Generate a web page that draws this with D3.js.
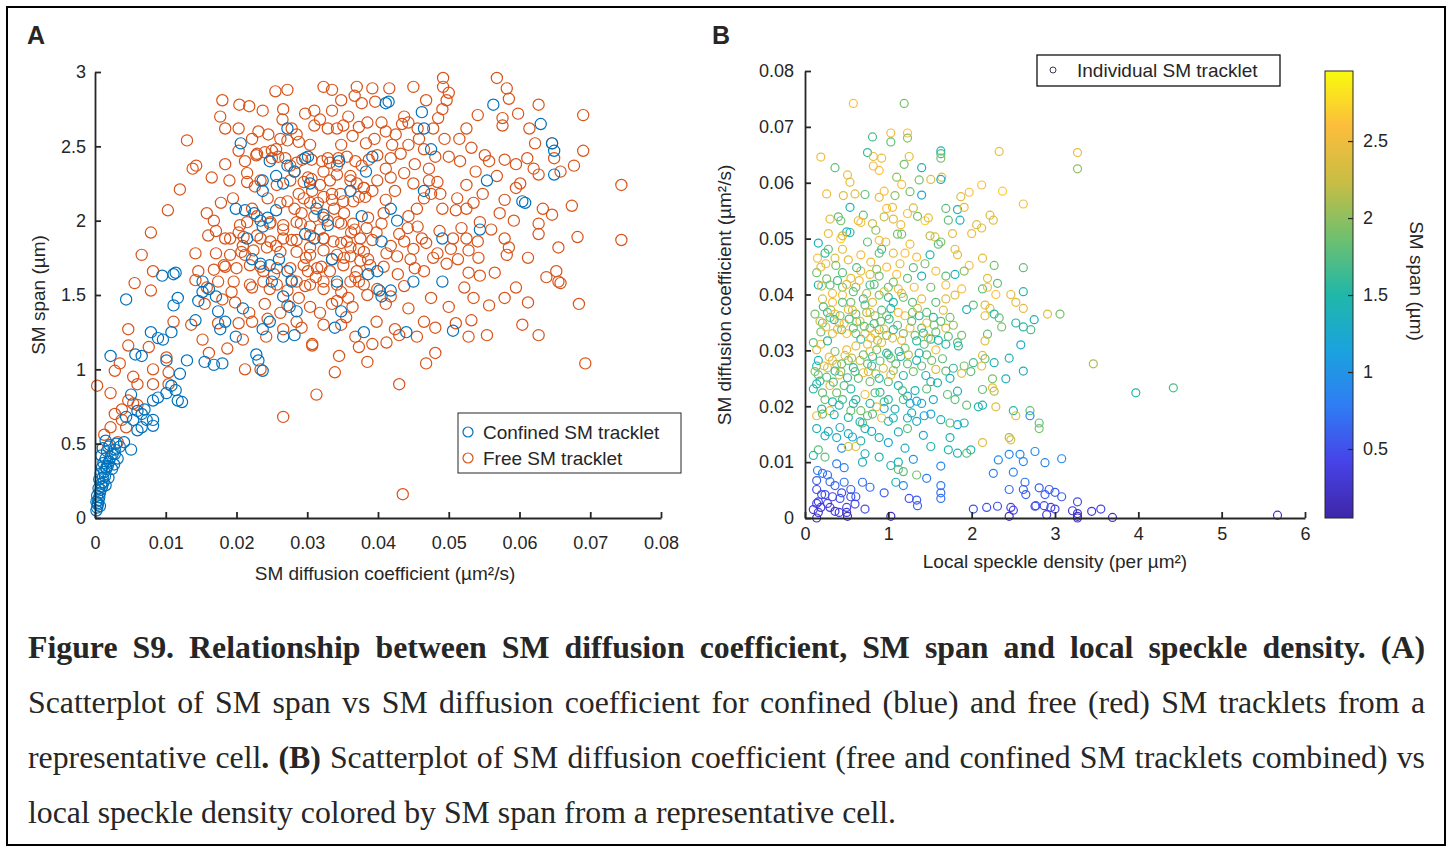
<!DOCTYPE html>
<html>
<head>
<meta charset="utf-8">
<script src="https://cdn.jsdelivr.net/npm/d3@7"></script>
<style>
  body { margin: 0; background: #fff; }
  svg { display: block; }
  text { font-family: "Liberation Sans", Arial, sans-serif; fill: #262626; }
</style>
</head>
<body>
<svg id="fig" width="1452" height="852"></svg>
<script>
// ---------- data : panel A (diffusion coefficient, span) ----------
var confinedPts = [
  [0.0002,0.05],[0.0003,0.07],[0.0007,0.08],[0.0004,0.09],[0.0004,0.10],[0.0002,0.11],[0.0005,0.12],[0.0006,0.14],
  [0.0003,0.15],[0.0007,0.17],[0.0008,0.19],[0.0005,0.20],[0.0010,0.21],[0.0015,0.22],[0.0009,0.23],[0.0012,0.24],
  [0.0006,0.26],[0.0011,0.27],[0.0019,0.27],[0.0014,0.28],[0.0008,0.30],[0.0013,0.31],[0.0016,0.33],[0.0024,0.33],
  [0.0010,0.34],[0.0016,0.34],[0.0018,0.35],[0.0027,0.36],[0.0012,0.37],[0.0020,0.38],[0.0015,0.40],[0.0032,0.40],
  [0.0022,0.41],[0.0009,0.42],[0.0025,0.43],[0.0028,0.43],[0.0017,0.45],[0.0028,0.46],[0.0051,0.46],[0.0011,0.47],
  [0.0035,0.48],[0.0021,0.49],[0.0030,0.50],[0.0041,0.51],[0.0015,0.52],
  [0.0060,0.59],[0.0051,0.83],[0.0066,0.70],[0.0073,0.66],[0.0082,0.62],[0.0082,0.66],[0.0066,0.61],[0.0054,0.66],
  [0.0044,0.68],[0.0060,0.72],[0.0070,0.73],[0.0082,0.79],[0.0089,0.81],[0.0101,0.84],[0.0117,0.79],[0.0123,0.78],
  [0.0108,0.89],[0.0114,0.86],[0.0120,0.97],[0.0101,1.06],[0.0089,1.21],[0.0096,1.20],[0.0079,1.25],[0.0022,1.09],
  [0.0057,1.10],[0.0066,1.09],[0.0108,1.25],[0.0044,1.47],[0.0095,1.63],[0.0111,1.64],[0.0114,1.65],[0.0117,1.48],
  [0.0111,1.43],[0.0130,1.06],[0.0142,1.33],[0.0146,1.46],[0.0152,1.59],[0.0152,1.52],[0.0161,1.54],[0.0171,1.49],
  [0.0174,1.39],[0.0184,1.32],[0.0177,1.27],[0.0155,1.05],[0.0168,1.03],[0.0180,1.04],[0.0199,1.22],[0.0209,1.41],
  [0.0228,1.10],[0.0231,1.06],[0.0237,0.99],[0.0237,1.27],[0.0247,1.32],
  [0.0199,2.08],[0.0212,2.07],[0.0225,2.05],[0.0234,2.00],[0.0244,2.02],[0.0256,2.07],[0.0237,1.96],[0.0215,1.88],
  [0.0222,1.74],[0.0234,1.71],[0.0247,1.70],[0.0260,1.74],[0.0272,1.66],[0.0278,1.59],[0.0266,1.49],[0.0275,1.42],
  [0.0285,1.39],[0.0266,1.22],[0.0282,1.23],[0.0250,1.59],[0.0237,2.27],[0.0237,2.20],[0.0247,2.40],[0.0272,2.62],
  [0.0206,2.52],[0.0256,2.30],[0.0266,2.25],[0.0272,2.37],[0.0282,2.33],[0.0297,2.42],[0.0301,2.43],[0.0304,2.25],
  [0.0297,1.91],[0.0310,1.88],[0.0313,2.08],[0.0323,2.04],[0.0329,1.97],[0.0335,1.74],[0.0342,1.59],[0.0348,1.39],
  [0.0339,1.28],[0.0345,2.40],[0.0361,2.20],[0.0377,2.03],[0.0383,2.33],[0.0392,2.43],[0.0386,1.64],[0.0380,1.25],
  [0.0399,1.66],[0.0405,1.86],[0.0402,1.53],[0.0405,1.49],[0.0418,1.53],[0.0415,2.80],[0.0411,2.79],[0.0418,2.08],
  [0.0427,2.00],[0.0440,1.25],[0.0450,1.59],[0.0462,2.73],[0.0465,2.62],[0.0475,2.48],[0.0465,2.20],[0.0491,1.59],
  [0.0491,1.88],[0.0506,1.26],[0.0544,1.94],[0.0554,2.27],[0.0563,2.78],[0.0604,2.13],[0.0608,2.12],[0.0630,2.65],
  [0.0646,2.52],[0.0649,2.47],[0.0649,2.31]
];

var freePts = [
  [0.0492,2.96],[0.0568,2.96],[0.0255,2.87],[0.0272,2.88],[0.0323,2.90],[0.0335,2.88],[0.0370,2.90],[0.0392,2.89],
  [0.0416,2.89],[0.0450,2.90],[0.0492,2.90],[0.0500,2.86],[0.0582,2.89],[0.0585,2.82],[0.0180,2.81],[0.0204,2.78],
  [0.0218,2.77],[0.0237,2.74],[0.0266,2.75],[0.0297,2.72],[0.0310,2.74],[0.0335,2.74],[0.0348,2.81],[0.0367,2.84],
  [0.0377,2.79],[0.0396,2.80],[0.0437,2.70],[0.0443,2.66],[0.0468,2.81],[0.0491,2.75],[0.0497,2.81],[0.0541,2.71],
  [0.0576,2.69],[0.0598,2.72],[0.0627,2.78],[0.0690,2.71],[0.0576,2.64],[0.0614,2.62],[0.0177,2.70],[0.0184,2.62],
  [0.0203,2.62],[0.0231,2.60],[0.0278,2.62],[0.0310,2.64],[0.0329,2.62],[0.0351,2.64],[0.0373,2.63],[0.0411,2.60],
  [0.0434,2.65],[0.0456,2.62],[0.0494,2.55],[0.0130,2.54],
  [0.0138,2.35],[0.0143,2.37],[0.0203,2.47],[0.0228,2.44],[0.0250,2.42],[0.0256,2.48],[0.0272,2.54],[0.0288,2.53],
  [0.0304,2.51],[0.0329,2.42],[0.0348,2.51],[0.0364,2.57],[0.0383,2.52],[0.0399,2.44],[0.0420,2.51],[0.0443,2.51],
  [0.0465,2.48],[0.0481,2.43],[0.0500,2.43],[0.0516,2.40],[0.0532,2.49],[0.0551,2.44],[0.0557,2.40],[0.0579,2.41],
  [0.0595,2.38],[0.0611,2.42],[0.0620,2.35],[0.0646,2.52],[0.0649,2.42],[0.0658,2.33],[0.0677,2.37],[0.0690,2.47],
  [0.0744,2.24],[0.0165,2.29],[0.0184,2.38],[0.0190,2.27],[0.0215,2.32],[0.0234,2.27],[0.0282,2.33],[0.0301,2.29],
  [0.0323,2.33],[0.0342,2.37],[0.0361,2.27],[0.0380,2.22],[0.0399,2.27],[0.0411,2.35],[0.0418,2.29],[0.0437,2.32],
  [0.0450,2.25],[0.0472,2.27],[0.0484,2.26],[0.0525,2.24],[0.0595,2.22],[0.0627,2.31],[0.0120,2.21],
  [0.0103,2.07],[0.0158,2.05],[0.0168,2.00],[0.0171,1.93],[0.0079,1.92],[0.0203,1.92],[0.0184,1.88],[0.0222,2.08],
  [0.0244,2.15],[0.0272,2.13],[0.0288,2.18],[0.0307,2.20],[0.0335,2.18],[0.0351,2.13],[0.0373,2.16],[0.0392,2.20],
  [0.0411,2.14],[0.0424,2.20],[0.0443,2.03],[0.0465,2.15],[0.0475,2.18],[0.0491,2.08],[0.0510,2.07],[0.0525,2.08],
  [0.0544,1.99],[0.0560,1.94],[0.0579,2.14],[0.0601,2.25],[0.0633,2.08],[0.0627,1.98],[0.0627,1.91],[0.0646,2.04],
  [0.0674,2.10],[0.0744,1.87],[0.0682,1.89],[0.0579,1.88],[0.0582,1.77],[0.0585,1.82],[0.0247,1.98],[0.0266,1.94],
  [0.0291,1.98],[0.0310,2.03],[0.0329,2.00],[0.0348,1.98],[0.0367,1.94],[0.0386,2.02],[0.0405,1.98],[0.0430,1.91],
  [0.0456,1.96],[0.0487,1.93],[0.0506,1.88],[0.0525,1.88],[0.0541,1.86],[0.0209,1.83],[0.0234,1.88],[0.0256,1.83],
  [0.0278,1.87],[0.0304,1.82],[0.0323,1.88],[0.0348,1.85],[0.0373,1.81],[0.0392,1.87],[0.0418,1.83],[0.0437,1.86],
  [0.0450,1.81],[0.0468,1.85],[0.0503,1.81],[0.0528,1.80],
  [0.0066,1.77],[0.0082,1.66],[0.0056,1.58],[0.0079,1.53],[0.0142,1.78],[0.0146,1.66],[0.0142,1.60],[0.0171,1.78],
  [0.0184,1.69],[0.0174,1.59],[0.0193,1.52],[0.0212,1.77],[0.0234,1.69],[0.0253,1.64],[0.0278,1.60],[0.0301,1.66],
  [0.0320,1.69],[0.0335,1.74],[0.0361,1.76],[0.0386,1.74],[0.0408,1.69],[0.0427,1.76],[0.0446,1.74],[0.0465,1.66],
  [0.0484,1.78],[0.0497,1.71],[0.0513,1.74],[0.0528,1.65],[0.0544,1.63],[0.0652,1.66],[0.0655,1.59],[0.0658,1.58],
  [0.0222,1.55],[0.0247,1.54],[0.0272,1.53],[0.0297,1.56],[0.0323,1.54],[0.0348,1.52],[0.0373,1.59],[0.0399,1.54],
  [0.0418,1.49],[0.0437,1.56],[0.0475,1.48],[0.0500,1.42],[0.0557,1.43],[0.0579,1.48],[0.0684,1.44],[0.0155,1.44],
  [0.0180,1.47],[0.0240,1.44],[0.0272,1.43],[0.0304,1.42],[0.0335,1.44],[0.0364,1.42],[0.0411,1.44],[0.0443,1.41],
  [0.0047,1.27],[0.0076,1.15],[0.0101,1.08],[0.0111,1.32],[0.0136,1.30],[0.0152,1.20],[0.0161,1.11],[0.0174,1.31],
  [0.0187,1.14],[0.0203,1.31],[0.0209,1.20],[0.0222,1.32],[0.0244,1.34],[0.0266,1.27],[0.0285,1.32],[0.0307,1.17],
  [0.0307,1.16],[0.0323,1.30],[0.0348,1.30],[0.0345,1.09],[0.0373,1.15],[0.0392,1.17],[0.0424,1.27],[0.0430,1.23],
  [0.0465,1.32],[0.0481,1.28],[0.0510,1.31],[0.0532,1.33],[0.0528,1.22],[0.0554,1.23],[0.0604,1.30],[0.0627,1.23],
  [0.0481,1.11],[0.0468,1.04],[0.0693,1.04],[0.0212,1.00],[0.0234,1.00],[0.0339,0.98],[0.0430,0.90],[0.0313,0.83],
  [0.0266,0.68],[0.0435,0.16],
  [0.0003,0.89],[0.0022,0.84],[0.0028,0.99],[0.0035,1.04],[0.0047,1.16],[0.0054,0.95],[0.0060,0.90],[0.0082,1.00],
  [0.0082,0.90],[0.0104,0.98],[0.0104,0.90],[0.0013,0.56],[0.0022,0.61],[0.0028,0.70],[0.0038,0.73],[0.0047,0.79],
  [0.0054,0.77],[0.0060,0.76],[0.0038,0.66],[0.0019,0.48],[0.0032,0.51],[0.0044,0.61],
  [0.0229,2.45],[0.0240,2.46],[0.0250,2.47],[0.0259,2.43],[0.0269,2.42],[0.0276,2.37],[0.0285,2.39],[0.0293,2.41],
  [0.0306,2.41],[0.0321,2.40],[0.0332,2.39],[0.0344,2.42],[0.0356,2.43],[0.0368,2.40],[0.0377,2.37],[0.0387,2.41],
  [0.0215,2.26],[0.0226,2.23],[0.0257,2.24],[0.0276,2.27],[0.0295,2.26],[0.0306,2.28],[0.0318,2.24],[0.0332,2.27],
  [0.0342,2.31],[0.0361,2.30],[0.0370,2.25],[0.0380,2.22],[0.0295,2.15],[0.0304,2.12],[0.0323,2.16],[0.0335,2.14],
  [0.0347,2.18],[0.0365,2.13],[0.0382,2.16],[0.0215,1.99],[0.0229,2.03],[0.0248,1.99],[0.0266,1.97],[0.0285,1.99],
  [0.0304,1.96],[0.0323,2.02],[0.0344,1.99],[0.0365,1.98],[0.0384,1.95],[0.0191,1.88],[0.0210,1.89],[0.0229,1.90],
  [0.0248,1.86],[0.0266,1.88],[0.0285,1.87],[0.0304,1.90],[0.0323,1.88],[0.0337,1.86],[0.0356,1.86],[0.0375,1.88],
  [0.0191,1.77],[0.0207,1.79],[0.0224,1.80],[0.0243,1.82],[0.0262,1.79],[0.0285,1.79],[0.0304,1.77],[0.0323,1.80],
  [0.0342,1.77],[0.0361,1.82],[0.0380,1.79],[0.0182,1.70],[0.0200,1.68],[0.0219,1.70],[0.0238,1.66],[0.0257,1.68],
  [0.0276,1.68],[0.0295,1.70],[0.0314,1.68],[0.0332,1.66],[0.0351,1.70],[0.0370,1.66],[0.0389,1.70],[0.0196,1.59],
  [0.0219,1.57],[0.0238,1.59],[0.0257,1.57],[0.0285,1.59],[0.0304,1.57],[0.0323,1.59],[0.0342,1.57],[0.0361,1.59],
  [0.0380,1.57],
  [0.0395,2.55],[0.0405,2.66],[0.0425,2.58],[0.0432,2.45],[0.0452,2.38],[0.0458,2.55],[0.0478,2.62],[0.0485,2.69],
  [0.0472,2.35],[0.0488,2.18],[0.0455,2.08],[0.0442,1.95],[0.0462,1.88],[0.0478,1.75],[0.0452,1.68],[0.0428,1.64],
  [0.0412,1.78],[0.0398,1.92],[0.0408,2.05],[0.0418,2.42],[0.0265,2.68],[0.0285,2.58],[0.0318,2.68],[0.0342,2.62],
  [0.0358,2.70],[0.0385,2.66],[0.0262,2.55],[0.0245,2.58],[0.0222,2.55],[0.0212,2.40],[0.0515,2.55],[0.0525,2.62],
  [0.0538,2.33],[0.0512,2.15],[0.0535,2.12],[0.0548,2.18],[0.0568,2.30],[0.0572,2.05],[0.0592,2.00],[0.0518,1.95],
  [0.0542,1.75],[0.0565,1.65],[0.0522,1.55],[0.0535,1.48],[0.0612,1.75],[0.0595,1.55],[0.0612,1.45],[0.0638,1.62],
  [0.0655,1.82],[0.0622,2.52],[0.0195,2.15],[0.0178,2.12],[0.0205,1.97],[0.0160,1.90],[0.0168,1.67],[0.0158,1.55],
  [0.0198,1.45],[0.0218,1.38],[0.0242,1.22],[0.0262,1.38],[0.0292,1.28],[0.0318,1.38],[0.0355,1.35],[0.0368,1.22],
  [0.0398,1.32],[0.0412,1.18],[0.0385,1.05],[0.0455,1.22],[0.0358,1.48],[0.0385,1.50],[0.0292,2.05],[0.0315,2.12],
  [0.0338,2.08],[0.0352,2.05],[0.0362,1.92],[0.0318,1.94],[0.0282,2.08],[0.0262,2.12],[0.0298,1.75],[0.0352,1.75],
  [0.0375,1.73],[0.0312,1.62],[0.0288,1.48],[0.0342,1.46],[0.0368,1.62]
];

var xTicksA = [0, 0.01, 0.02, 0.03, 0.04, 0.05, 0.06, 0.07, 0.08];
var xLabelsA = ["0", "0.01", "0.02", "0.03", "0.04", "0.05", "0.06", "0.07", "0.08"];
var yTicksA = [0, 0.5, 1, 1.5, 2, 2.5, 3];
var yLabelsA = ["0", "0.5", "1", "1.5", "2", "2.5", "3"];

// ---------- data : panel B (speckle density, diffusion coefficient, span) ----------
var trackletPts = [
  [0.58,0.0742,2.6],[1.19,0.0742,1.9],[0.81,0.0682,1.7],[1.03,0.0689,2.5],[1.03,0.0673,1.8],[1.23,0.0689,2.6],[1.23,0.0680,2.0],
  [0.19,0.0646,2.5],[0.75,0.0654,1.6],[0.82,0.0647,2.4],[0.92,0.0644,2.5],[1.25,0.0647,2.4],[1.63,0.0657,1.5],[1.63,0.0652,1.7],
  [1.63,0.0644,1.9],[2.33,0.0656,2.5],[3.27,0.0654,2.5],[3.27,0.0625,2.0],[0.36,0.0627,1.8],[0.82,0.0630,2.5],[0.89,0.0622,2.6],
  [1.19,0.0633,1.9],[1.40,0.0627,1.4],[0.51,0.0614,2.5],[1.10,0.0610,2.0],[1.37,0.0605,1.9],[1.51,0.0606,2.4],[1.64,0.0610,2.4],
  [1.63,0.0606,1.3],[2.12,0.0596,2.6],[0.54,0.0601,2.4],[1.16,0.0597,2.6],[2.37,0.0585,2.7],[0.26,0.0580,2.5],[0.46,0.0577,2.4],
  [0.72,0.0579,1.8],[0.89,0.0574,2.4],[1.08,0.0577,2.0],[1.40,0.0578,1.2],[1.26,0.0584,1.9],[1.87,0.0575,2.4],[1.97,0.0583,2.6],
  [1.69,0.0554,1.8],[1.83,0.0552,1.4],[1.91,0.0556,2.4],[2.62,0.0562,2.6],[0.54,0.0556,1.4],[0.98,0.0554,2.6],[1.05,0.0556,2.5],
  [1.23,0.0545,2.6],[0.40,0.0539,1.8],[0.70,0.0542,1.8],[0.95,0.0539,2.2],[1.35,0.0540,1.9],[1.44,0.0532,2.7],[1.48,0.0537,2.4],
  [1.86,0.0533,1.4],[2.22,0.0542,2.4],[2.26,0.0533,2.4],[0.43,0.0532,1.9],[0.67,0.0529,2.6],[0.81,0.0527,2.3],[0.64,0.0532,2.4],
  [1.06,0.0535,2.4],[1.72,0.0533,1.8],[2.06,0.0525,2.4],[2.00,0.0509,2.5],[2.12,0.0519,2.4],[0.28,0.0509,2.5],[0.50,0.0512,1.4],
  [0.54,0.0511,1.5],[0.43,0.0500,2.7],[0.16,0.0492,1.4],[0.75,0.0494,1.8],[0.89,0.0497,2.6],[0.97,0.0494,2.4],[1.11,0.0508,1.9],
  [1.16,0.0508,1.9],[1.56,0.0503,2.4],[1.63,0.0494,1.9],[1.77,0.0509,2.4],[1.60,0.0490,1.8],[0.15,0.0465,2.6],[0.24,0.0474,1.5],
  [0.28,0.0481,1.8],[0.36,0.0465,2.4],[0.45,0.0481,2.4],[0.67,0.0471,2.6],[0.89,0.0474,1.8],[0.92,0.0481,1.6],[1.06,0.0474,2.4],
  [1.20,0.0474,2.6],[1.26,0.0490,2.5],[1.34,0.0467,2.6],[1.44,0.0455,1.9],[1.50,0.0471,1.5],[1.80,0.0481,2.4],[1.83,0.0471,2.4],
  [2.13,0.0465,2.4],[2.27,0.0452,1.9],[2.62,0.0448,1.8],[1.97,0.0452,2.6],[0.14,0.0439,1.9],[0.19,0.0449,2.4],[0.45,0.0439,1.8],
  [0.55,0.0429,2.4],[0.67,0.0442,2.4],[0.78,0.0436,2.4],[0.89,0.0433,1.9],[0.98,0.0449,2.6],[1.10,0.0436,2.6],[1.23,0.0429,1.8],
  [1.40,0.0433,1.4],[1.57,0.0442,2.6],[1.69,0.0433,1.8],[1.80,0.0436,1.4],[1.91,0.0442,2.0],[2.19,0.0429,2.4],[2.31,0.0420,1.8],
  [0.16,0.0417,1.5],[0.30,0.0417,1.8],[0.45,0.0413,1.9],[0.61,0.0413,1.9],[0.78,0.0417,1.7],[1.00,0.0413,1.8],[1.12,0.0410,2.5],
  [1.31,0.0413,2.5],[1.51,0.0413,1.9],[1.69,0.0417,2.6],[1.88,0.0410,2.6],[2.13,0.0410,1.8],[2.19,0.0413,2.6],[2.47,0.0400,2.4],
  [2.62,0.0405,1.5],[2.53,0.0386,2.4],[2.62,0.0375,2.4],[2.29,0.0400,2.6],[2.16,0.0381,2.4],[2.22,0.0375,2.4],
  [0.21,0.0392,2.4],[0.33,0.0386,2.6],[0.45,0.0399,2.6],[0.55,0.0386,1.9],[0.70,0.0392,1.6],[0.81,0.0386,2.4],[0.89,0.0399,1.9],
  [1.00,0.0395,1.6],[1.06,0.0386,1.5],[1.18,0.0395,1.9],[1.29,0.0386,1.8],[1.40,0.0392,2.4],[1.57,0.0386,1.8],[1.69,0.0392,2.4],
  [1.80,0.0399,2.4],[1.94,0.0373,1.3],[2.02,0.0381,1.8],[2.27,0.0365,1.5],[2.33,0.0358,1.8],[2.53,0.0349,1.5],[2.75,0.0355,1.4],
  [2.91,0.0365,2.4],[3.06,0.0365,1.9],[3.46,0.0276,2.1],[3.97,0.0224,1.5],[4.42,0.0233,1.7],[2.16,0.0362,2.4],[2.36,0.0342,1.9],
  [2.62,0.0342,1.5],[2.71,0.0337,1.7],[2.59,0.0310,1.3],[2.45,0.0286,1.4],[2.62,0.0263,1.3],[2.19,0.0329,1.8],[2.16,0.0317,2.4],
  [2.13,0.0291,2.4],[2.16,0.0285,1.8],[2.02,0.0278,1.7],[1.91,0.0272,1.9],[1.99,0.0262,1.8],[1.88,0.0259,2.4],[2.12,0.0272,2.4],
  [2.27,0.0278,1.4],[2.41,0.0249,1.4],[2.25,0.0249,1.9],[2.13,0.0230,1.8],[2.27,0.0227,2.1],[2.25,0.0233,2.5],[1.83,0.0314,1.8],
  [1.84,0.0308,1.5],[1.88,0.0327,1.9],[1.69,0.0340,2.4],[1.57,0.0333,1.8],[1.51,0.0320,1.5],[1.69,0.0311,1.5],[1.57,0.0301,2.6],
  [1.46,0.0292,1.8],[1.34,0.0282,1.4],[1.40,0.0272,1.8],[1.57,0.0266,2.4],[1.69,0.0263,1.8],[1.74,0.0250,1.4],[1.51,0.0244,1.5],
  [1.46,0.0231,1.8],[1.32,0.0228,1.4],[1.23,0.0218,1.2],[1.18,0.0212,1.8],[1.26,0.0205,1.3],[1.34,0.0209,1.2],[1.54,0.0212,1.3],
  [1.71,0.0221,1.8],[1.80,0.0212,1.8],[1.83,0.0227,1.4],[1.94,0.0202,1.8],[2.08,0.0199,1.5],[2.13,0.0202,1.4],[2.29,0.0199,2.4],
  [2.50,0.0192,1.5],[2.70,0.0192,1.8],[2.53,0.0183,2.4],[2.70,0.0183,0.9],[2.81,0.0170,1.8],[2.81,0.0160,1.9],[2.45,0.0144,2.1],
  [2.47,0.0140,2.4],[2.13,0.0135,2.4],[1.94,0.0116,1.8],[1.99,0.0122,1.5],[1.83,0.0116,1.4],[1.72,0.0122,1.5],[1.74,0.0144,1.4],
  [1.83,0.0167,1.2],[1.91,0.0170,1.4],[1.74,0.0170,1.8],[1.63,0.0176,1.4],[1.51,0.0186,1.2],[1.43,0.0183,1.1],[1.34,0.0173,1.3],
  [1.23,0.0160,1.8],[1.12,0.0154,1.4],[1.23,0.0179,1.4],[1.06,0.0179,1.4],[1.00,0.0173,1.4],[0.95,0.0196,1.1],[0.95,0.0208,1.8],
  [0.86,0.0199,2.5],[0.75,0.0183,1.8],[0.72,0.0160,1.4],[0.67,0.0138,1.4],[0.89,0.0144,1.5],[0.72,0.0115,1.4],[0.69,0.0100,1.4],
  [0.89,0.0109,1.4],[1.03,0.0094,1.4],[1.12,0.0100,1.4],[1.12,0.0087,1.8],[1.18,0.0083,1.8],[1.09,0.0064,1.4],[1.18,0.0058,0.9],
  [1.34,0.0077,1.9],[1.51,0.0128,1.4],[1.63,0.0093,0.9],[1.63,0.0058,0.8],[1.63,0.0035,0.7],[1.63,0.0045,0.7],[1.46,0.0071,0.8],
  [1.34,0.0032,0.6],[1.35,0.0022,0.6],[0.72,0.0016,0.5],[0.61,0.0038,0.6],[0.69,0.0064,0.7],[0.55,0.0051,0.6],[0.50,0.0019,0.4],
  [0.50,0.0010,0.3],[0.51,0.0003,0.2],[0.55,0.0038,0.5],[0.47,0.0064,0.7],[0.44,0.0045,0.5],[0.38,0.0097,0.8],[0.27,0.0077,0.7],
  [0.21,0.0080,0.7],[0.14,0.0067,0.6],[0.14,0.0051,0.5],[0.16,0.0029,0.4],[0.14,0.0026,0.4],[0.16,0.0010,0.3],[0.19,0.0019,0.3],
  [0.27,0.0026,0.4],[0.33,0.0038,0.4],[0.36,0.0058,0.6],[0.24,0.0042,0.5],[0.30,0.0019,0.3],[0.41,0.0010,0.3],[0.14,0.0000,0.1],
  [1.03,0.0003,0.2],[0.44,0.0125,0.9],[0.47,0.0090,0.8],[0.24,0.0109,1.8],[0.16,0.0122,1.8],[0.10,0.0112,1.5],[0.24,0.0147,1.4],
  [0.38,0.0144,1.4],[0.52,0.0151,1.4],[0.14,0.0160,1.4],[0.21,0.0186,1.8],[0.14,0.0183,2.4],[0.30,0.0192,2.4],[0.41,0.0202,1.4],
  [0.52,0.0180,1.5],[0.55,0.0192,1.8],[0.61,0.0128,2.4],[0.52,0.0128,2.2],[0.69,0.0170,1.8],
  [2.02,0.0016,0.5],[2.18,0.0019,0.5],[2.31,0.0021,0.5],[2.47,0.0019,0.4],[2.50,0.0014,0.4],[2.45,0.0003,0.2],[2.76,0.0021,0.5],
  [2.87,0.0022,0.5],[2.90,0.0006,0.3],[2.95,0.0019,0.4],[3.00,0.0016,0.4],[3.21,0.0013,0.3],[3.27,0.0008,0.3],[3.27,0.0003,0.2],
  [3.27,0.0000,0.2],[3.44,0.0012,0.3],[3.55,0.0016,0.4],[3.69,0.0001,0.2],[5.67,0.0005,0.2],[3.27,0.0029,0.5],[3.08,0.0038,0.6],
  [3.00,0.0046,0.6],[2.93,0.0051,0.6],[2.81,0.0054,0.6],[2.88,0.0042,0.6],[2.77,0.0022,0.5],[2.65,0.0042,0.6],[2.64,0.0064,0.7],
  [2.62,0.0051,0.6],[2.45,0.0051,0.7],[2.50,0.0082,0.8],[2.26,0.0080,0.8],[2.32,0.0104,0.9],[2.45,0.0114,0.9],[2.58,0.0114,0.9],
  [2.62,0.0101,0.9],[2.76,0.0119,0.9],[2.88,0.0099,0.9],[3.08,0.0106,0.9],
  [0.10,0.0231,1.5],[0.14,0.0240,1.4],[0.16,0.0256,1.8],[0.14,0.0272,1.5],[0.16,0.0282,1.4],[0.14,0.0301,2.4],[0.10,0.0314,1.8],
  [0.19,0.0311,2.4],[0.19,0.0333,1.9],[0.21,0.0349,1.8],[0.27,0.0368,1.6],[0.30,0.0359,1.9],[0.36,0.0365,2.6],[0.41,0.0349,2.4],
  [0.44,0.0337,1.8],[0.50,0.0330,2.6],[0.58,0.0340,1.8],[0.61,0.0330,1.9],[0.67,0.0320,1.5],[0.72,0.0330,2.5],[0.78,0.0340,2.0],
  [0.84,0.0330,2.6],[0.89,0.0337,1.9],[0.98,0.0327,1.9],[1.06,0.0337,1.5],[1.18,0.0330,1.9],[1.26,0.0340,2.5],[1.32,0.0327,1.9],
  [1.40,0.0340,1.8],[0.33,0.0330,2.4],[0.27,0.0317,1.5],[0.36,0.0298,1.9],[0.33,0.0282,2.4],[0.27,0.0269,2.5],[0.36,0.0263,1.5],
  [0.41,0.0256,2.4],[0.44,0.0276,1.8],[0.52,0.0282,1.9],[0.58,0.0269,1.5],[0.64,0.0250,1.8],[0.70,0.0260,2.5],[0.75,0.0276,1.8],
  [0.81,0.0289,1.6],[0.86,0.0301,1.9],[0.92,0.0314,2.4],[0.98,0.0295,1.5],[1.03,0.0286,1.9],[1.09,0.0276,1.8],[1.15,0.0289,1.5],
  [1.20,0.0304,1.9],[1.23,0.0276,1.8],[0.78,0.0244,1.9],[0.89,0.0250,1.5],[1.00,0.0244,1.8],[1.03,0.0256,2.4],[1.12,0.0237,1.4],
  [0.55,0.0231,1.5],[0.47,0.0237,1.8],[0.38,0.0224,1.9],[0.30,0.0237,2.4],[0.21,0.0224,1.8],[0.24,0.0212,1.9],[0.33,0.0208,1.5],
  [0.61,0.0212,1.5],[0.72,0.0221,2.5],[0.84,0.0224,1.8],[0.67,0.0192,1.9],[0.81,0.0186,1.8],[0.92,0.0179,2.5],[0.45,0.0386,1.8],
  [0.52,0.0373,2.4],[0.61,0.0365,1.8],[0.72,0.0381,1.8],[0.78,0.0368,2.5],[0.84,0.0362,1.9],[0.92,0.0372,1.8],[0.98,0.0362,1.9],
  [1.03,0.0375,1.5],[1.12,0.0368,2.6],[1.20,0.0362,2.5],[1.29,0.0368,1.9],[1.37,0.0362,1.5],[1.46,0.0368,1.8],[1.54,0.0359,1.5],
  [1.63,0.0352,1.8],[1.74,0.0359,1.9],[1.46,0.0349,2.5],[1.34,0.0317,1.5],[1.43,0.0311,1.8],[0.50,0.0301,2.5],[0.61,0.0308,2.4],
  [0.75,0.0311,2.5],[0.78,0.0298,2.5],
  [0.12,0.0365,1.9],[0.18,0.0352,2.3],[0.22,0.0378,1.7],[0.25,0.0342,2.5],[0.31,0.0372,2.2],[0.35,0.0355,1.6],[0.39,0.0338,2.4],
  [0.42,0.0362,1.9],[0.47,0.0348,2.6],[0.53,0.0356,1.7],[0.57,0.0372,2.3],[0.62,0.0351,1.9],[0.12,0.0262,2.0],[0.18,0.0245,1.6],
  [0.23,0.0272,2.3],[0.26,0.0252,1.8],[0.29,0.0288,2.5],[0.34,0.0243,1.7],[0.38,0.0275,2.2],[0.43,0.0262,1.9],[0.48,0.0291,2.4],
  [0.51,0.0251,1.6],[0.56,0.0286,2.2],[0.60,0.0262,1.8],[0.66,0.0352,2.4],[0.71,0.0343,1.8],[0.74,0.0368,2.1],[0.79,0.0322,2.4],
  [0.83,0.0348,1.7],[0.87,0.0318,2.2],[0.91,0.0352,1.9],[0.95,0.0338,2.5],[1.01,0.0356,1.6],[1.05,0.0322,2.3],[1.11,0.0345,1.8],
  [1.16,0.0318,2.4],[0.66,0.0282,2.2],[0.70,0.0292,1.9],[0.76,0.0262,2.4],[0.80,0.0272,1.6],[0.85,0.0258,2.1],[0.90,0.0281,1.8],
  [0.94,0.0268,2.3],[1.00,0.0292,1.7],[1.06,0.0264,2.0],[1.13,0.0298,1.6],[1.18,0.0255,1.5],[1.24,0.0292,2.2],[0.20,0.0415,2.3],
  [0.26,0.0428,1.9],[0.33,0.0402,2.5],[0.39,0.0425,1.7],[0.50,0.0418,2.4],[0.58,0.0405,1.8],[0.65,0.0425,2.5],[0.74,0.0402,2.2],
  [0.83,0.0418,1.8],[0.95,0.0405,2.4],[1.06,0.0422,1.9],[1.16,0.0402,2.3],[0.25,0.0455,2.5],[0.37,0.0452,1.9],[0.52,0.0462,2.4],
  [0.62,0.0448,1.7],[0.79,0.0458,2.5],[0.86,0.0445,2.0],[1.14,0.0455,2.4],[1.30,0.0448,1.8],[1.28,0.0352,1.8],[1.35,0.0375,2.3],
  [1.42,0.0331,1.6],[1.48,0.0322,2.2],[1.55,0.0345,1.9],[1.60,0.0318,1.5],[1.66,0.0372,2.4],[1.72,0.0325,1.8],[1.78,0.0345,2.0],
  [1.30,0.0262,1.9],[1.37,0.0295,1.5],[1.45,0.0255,1.4],[1.52,0.0282,1.9],[1.59,0.0242,1.5],[1.65,0.0285,1.8],[1.78,0.0268,1.6],
  [0.20,0.0195,1.6],[0.35,0.0185,1.4],[0.45,0.0212,1.7],[0.58,0.0205,1.5],[0.66,0.0172,1.4],[0.78,0.0205,1.5],[0.90,0.0225,1.6],
  [1.00,0.0212,1.5],[1.08,0.0195,1.4],[1.17,0.0228,1.7],[1.28,0.0188,1.4],[1.40,0.0205,1.3],[0.28,0.0155,1.3],[0.42,0.0162,1.3],
  [0.57,0.0145,1.2],[0.80,0.0155,1.3],[1.00,0.0135,1.2],[1.20,0.0125,1.3],[1.42,0.0148,1.2],[1.30,0.0105,1.0],[0.15,0.0085,0.8],
  [0.30,0.0065,0.7],[0.42,0.0035,0.5],[0.60,0.0025,0.4],[0.78,0.0055,0.7],[0.95,0.0045,0.6],[0.20,0.0042,0.5],[0.36,0.0012,0.3],
  [0.10,0.0015,0.3],[1.25,0.0035,0.5],[0.30,0.0535,2.5],[0.60,0.0580,2.4],[0.95,0.0585,2.6],[1.30,0.0555,2.3],[1.50,0.0505,2.2],
  [0.85,0.0515,2.0],[1.15,0.0525,2.5],[0.45,0.0505,2.3]
];

var xTicksB = [0, 1, 2, 3, 4, 5, 6];
var xLabelsB = ["0", "1", "2", "3", "4", "5", "6"];
var yTicksB = [0, 0.01, 0.02, 0.03, 0.04, 0.05, 0.06, 0.07, 0.08];
var yLabelsB = ["0", "0.01", "0.02", "0.03", "0.04", "0.05", "0.06", "0.07", "0.08"];
var cbTicks = [0.5, 1, 1.5, 2, 2.5];
var cbLabels = ["0.5", "1", "1.5", "2", "2.5"];

// parula colour map (approximation, equal spacing)
var parulaStops = ["#3e26a8", "#4743e8", "#2f7cf4", "#1aa3de", "#20b7a8", "#6ec06e", "#c8bd45", "#fbbd3c", "#f9fb0e"];

var captionLines = [
  "**Figure S9. Relationship between SM diffusion coefficient, SM span and local speckle density. (A)**",
  "Scatterplot of SM span vs SM diffusion coefficient for confined (blue) and free (red) SM tracklets from a",
  "representative cell**. (B)** Scatterplot of SM diffusion coefficient (free and confined SM tracklets combined) vs",
  "local speckle density colored by SM span from a representative cell."
];

var blue = "#0072bd", red = "#d95319", axisCol = "#262626";
var svg = d3.select("#fig");

// outer frame
svg.append("rect").attr("x", 7).attr("y", 7).attr("width", 1438).attr("height", 838)
  .attr("fill", "none").attr("stroke", "#000").attr("stroke-width", 2);

function drawAxes(x, y, xt, xl, yt, yl, xpad, ypad) {
  var g = svg.append("g");
  g.append("g").attr("transform", "translate(0," + y.range()[0] + ")")
    .call(d3.axisBottom(x).tickValues(xt).tickFormat(function(d, i) { return xl[i]; })
      .tickSizeInner(-6).tickSizeOuter(0).tickPadding(xpad));
  g.append("g").attr("transform", "translate(" + x.range()[0] + ",0)")
    .call(d3.axisLeft(y).tickValues(yt).tickFormat(function(d, i) { return yl[i]; })
      .tickSizeInner(-6).tickSizeOuter(0).tickPadding(ypad));
  g.selectAll(".domain, .tick line").attr("stroke", axisCol).attr("stroke-width", 1.8);
  g.selectAll(".tick text").attr("font-size", 18).attr("fill", axisCol)
    .attr("font-family", "'Liberation Sans', Arial, sans-serif");
  return g;
}

// ---------------- panel A ----------------
var xA = d3.scaleLinear().domain([0, 0.08]).range([95, 661]);
var yA = d3.scaleLinear().domain([0, 3]).range([518, 72]);

svg.append("text").attr("x", 27).attr("y", 44).attr("font-size", 25).attr("font-weight", "bold")
  .attr("fill", "#111").text("A");

svg.append("g").selectAll("circle").data(freePts).enter().append("circle")
  .attr("cx", function(d) { return xA(d[0]); })
  .attr("cy", function(d) { return yA(d[1]); })
  .attr("r", 5.6).attr("fill", "none").attr("stroke", red).attr("stroke-width", 1.2);
svg.append("g").selectAll("circle").data(confinedPts).enter().append("circle")
  .attr("cx", function(d) { return xA(d[0]); })
  .attr("cy", function(d) { return yA(d[1]); })
  .attr("r", 5.6).attr("fill", "none").attr("stroke", blue).attr("stroke-width", 1.2);

drawAxes(xA, yA, xTicksA, xLabelsA, yTicksA, yLabelsA, 18, 9);

svg.append("text").attr("x", 385).attr("y", 580).attr("text-anchor", "middle").attr("font-size", 19)
  .text("SM diffusion coefficient (µm²/s)");
svg.append("text").attr("transform", "translate(45,295) rotate(-90)").attr("text-anchor", "middle")
  .attr("font-size", 19).text("SM span (µm)");

// legend A
var legA = svg.append("g");
legA.append("rect").attr("x", 458).attr("y", 413).attr("width", 223).attr("height", 60)
  .attr("fill", "#fff").attr("stroke", axisCol).attr("stroke-width", 1);
[["Confined SM tracklet", blue, 432], ["Free SM tracklet", red, 458]].forEach(function(it) {
  legA.append("circle").attr("cx", 468).attr("cy", it[2]).attr("r", 5).attr("fill", "none")
    .attr("stroke", it[1]).attr("stroke-width", 1.2);
  legA.append("text").attr("x", 483).attr("y", it[2] + 6.5).attr("font-size", 19).text(it[0]);
});

// ---------------- panel B ----------------
var xB = d3.scaleLinear().domain([0, 6]).range([805, 1305]);
var yB = d3.scaleLinear().domain([0, 0.08]).range([518, 71]);
var cDom = [0.052, 2.955];
var parula = d3.piecewise(d3.interpolateRgb, parulaStops);
var cScale = d3.scaleSequential(parula).domain(cDom);

svg.append("text").attr("x", 712).attr("y", 44).attr("font-size", 25).attr("font-weight", "bold")
  .attr("fill", "#111").text("B");

svg.append("g").selectAll("circle").data(trackletPts).enter().append("circle")
  .attr("cx", function(d) { return xB(d[0]); })
  .attr("cy", function(d) { return yB(d[1]); })
  .attr("r", 4).attr("fill", "none").attr("stroke", function(d) { return cScale(d[2]); })
  .attr("stroke-width", 1.2);

drawAxes(xB, yB, xTicksB, xLabelsB, yTicksB, yLabelsB, 9, 11);

svg.append("text").attr("x", 1055).attr("y", 568).attr("text-anchor", "middle").attr("font-size", 19)
  .text("Local speckle density (per µm²)");
svg.append("text").attr("transform", "translate(731,295) rotate(-90)").attr("text-anchor", "middle")
  .attr("font-size", 19).text("SM diffusion coefficient (µm²/s)");

// legend B
var legB = svg.append("g");
legB.append("rect").attr("x", 1037).attr("y", 55).attr("width", 243).attr("height", 31)
  .attr("fill", "#fff").attr("stroke", "#111").attr("stroke-width", 1.3);
legB.append("circle").attr("cx", 1053).attr("cy", 70).attr("r", 3).attr("fill", "none")
  .attr("stroke", "#3a3a5a").attr("stroke-width", 1);
legB.append("text").attr("x", 1077).attr("y", 76.5).attr("font-size", 19).text("Individual SM tracklet");

// colour bar
var cbX = 1325, cbW = 28;
var cbY = d3.scaleLinear().domain(cDom).range([518, 71]);
var grad = svg.append("defs").append("linearGradient").attr("id", "parulaGrad")
  .attr("x1", 0).attr("y1", 1).attr("x2", 0).attr("y2", 0);
d3.range(0, 1.0001, 0.025).forEach(function(t) {
  grad.append("stop").attr("offset", t).attr("stop-color", parula(t));
});
svg.append("rect").attr("x", cbX).attr("y", 71).attr("width", cbW).attr("height", 447)
  .attr("fill", "url(#parulaGrad)").attr("stroke", axisCol).attr("stroke-width", 1);
var cbG = svg.append("g").attr("transform", "translate(" + (cbX + cbW) + ",0)")
  .call(d3.axisRight(cbY).tickValues(cbTicks).tickFormat(function(d, i) { return cbLabels[i]; })
    .tickSizeInner(-5).tickSizeOuter(0).tickPadding(10));
cbG.select(".domain").remove();
cbG.selectAll(".tick line").attr("stroke", axisCol).attr("stroke-width", 1.2);
cbG.selectAll(".tick text").attr("font-size", 18).attr("fill", axisCol)
  .attr("font-family", "'Liberation Sans', Arial, sans-serif");
svg.append("text").attr("transform", "translate(1410,281) rotate(90)").attr("text-anchor", "middle")
  .attr("font-size", 19).text("SM span (µm)");

// ---------------- caption (justified) ----------------
var capLeft = 28, capRight = 1425, capSize = 31.8;
var capBase = [658, 713, 768, 823];
function parseWords(line) {
  var parts = line.split("**"), words = [], cur = [], bold = false;
  parts.forEach(function(p, pi) {
    bold = pi % 2 === 1;
    for (var i = 0; i < p.length; i++) {
      var ch = p[i];
      if (ch === " ") {
        if (cur.length) { words.push(cur); cur = []; }
      } else {
        var last = cur[cur.length - 1];
        if (last && last.b === bold) last.t += ch; else cur.push({ t: ch, b: bold });
      }
    }
  });
  if (cur.length) words.push(cur);
  return words;
}
captionLines.forEach(function(line, li) {
  var words = parseWords(line);
  var els = words.map(function(w) {
    var t = svg.append("text").attr("y", capBase[li]).attr("font-size", capSize)
      .style("font-family", "'Liberation Serif', 'Times New Roman', serif").attr("fill", "#000");
    w.forEach(function(s) {
      t.append("tspan").attr("font-weight", s.b ? "bold" : "normal").text(s.t);
    });
    return t;
  });
  var widths = els.map(function(t) { return t.node().getComputedTextLength(); });
  var total = d3.sum(widths);
  var justify = li < captionLines.length - 1;
  var spaceW = capSize * 0.25;
  var gap = justify ? (capRight - capLeft - total) / (els.length - 1) : spaceW;
  var x = capLeft;
  els.forEach(function(t, i) { t.attr("x", x); x += widths[i] + gap; });
});
</script>
</body>
</html>
